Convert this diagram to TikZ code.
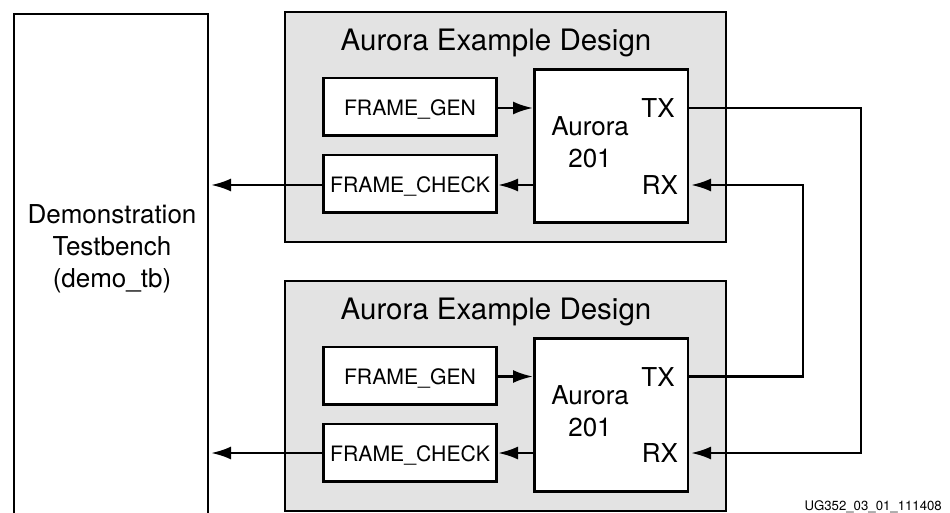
\documentclass[tikz,border=0pt]{standalone}
\usepackage{fontspec}
\setmainfont{TeX Gyre Heros}
\usetikzlibrary{arrows.meta}
\tikzset{
 box/.style={draw=black,line width=2.4pt,fill=white,inner sep=0pt,outer sep=0pt},
 design/.style={draw=black,line width=2.4pt,fill=black!11,inner sep=0pt,outer sep=0pt},
 conn/.style={line width=2.6pt,-{Latex[length=20pt,width=13pt]}},
 plain/.style={line width=2.4pt},
 big/.style={font=\fontsize{29.5}{34}\selectfont,inner sep=0pt},
 med/.style={font=\fontsize{26}{32}\selectfont,inner sep=0pt,align=center},
 small/.style={font=\fontsize{21.2}{24}\selectfont,inner sep=0pt},
}
\newcommand{\bx}[6][box]{\node[#1,minimum width=#4 pt,minimum height=#5 pt,anchor=north west] (#2) at (#3) {#6};}
\begin{document}
\begin{tikzpicture}[x=1pt,y=-1pt]
\useasboundingbox (0,0) rectangle (950,513);
\coordinate (tbbl) at (14,513);
\coordinate (tbtl) at (14,14);
\coordinate (tbtr) at (208,14);
\coordinate (tbbr) at (208,513);
\draw[plain] (tbbl) -- (tbtl) -- (tbtr) -- (tbbr);
\node[med] (tb) at (112,248.5) {Demonstration\\Testbench\\(demo\_tb)};
\coordinate (tbA) at (211,185);
\coordinate (tbB) at (211,453);
\bx[design]{d1}{285,12}{441}{230}{}
\bx[design]{d2}{285,281}{441}{230}{}
\node[big] (t1) at (496,43) {Aurora Example Design};
\node[big] (t2) at (496,312) {Aurora Example Design};
\bx{g1}{323.5,78}{173}{57.5}{}
\bx{c1}{323.5,155}{173}{57.5}{}
\bx{a1}{534.5,69.5}{153.5}{153}{}
\bx{g2}{323.5,347}{173}{57.5}{}
\bx{c2}{323.5,424}{173}{57.5}{}
\bx{a2}{534.5,338.5}{153.5}{153}{}
\node[small] (gt1) at (410,109) {FRAME\_GEN};
\node[small] (ct1) at (410,186) {FRAME\_CHECK};
\node[small] (gt2) at (410,378) {FRAME\_GEN};
\node[small] (ct2) at (410,455) {FRAME\_CHECK};
\node[med] (at1) at (590,142.5) {Aurora\\201};
\node[med] (at2) at (590,411.5) {Aurora\\201};
\node[med] (tx1) at (658,108) {TX};
\node[med] (rx1) at (660,185) {RX};
\node[med] (tx2) at (658,377) {TX};
\node[med] (rx2) at (660,453) {RX};
\coordinate (a1tx) at (688,108);
\coordinate (a1rx) at (691,185);
\coordinate (a2tx) at (688,376.5);
\coordinate (a2rx) at (691,453);
\coordinate (a1g) at (533,108);
\coordinate (a1c) at (534.5,185);
\coordinate (a2g) at (533,376.5);
\coordinate (a2c) at (534.5,453);
\coordinate (g1e) at (496.5,108);
\coordinate (c1e) at (498,185);
\coordinate (c1w) at (323.5,185);
\coordinate (g2e) at (496.5,376.5);
\coordinate (c2e) at (498,453);
\coordinate (c2w) at (323.5,453);
\coordinate (o1) at (861,108);
\coordinate (o2) at (861,453);
\coordinate (i1) at (803,185);
\coordinate (i2) at (803,376.5);
\draw[conn] (g1e) -- (a1g);
\draw[conn] (a1c) -- (c1e);
\draw[conn] (c1w) -- (tbA);
\draw[conn] (g2e) -- (a2g);
\draw[conn] (a2c) -- (c2e);
\draw[conn] (c2w) -- (tbB);
\draw[conn] (a1tx) -- (o1) -- (o2) -- (a2rx);
\draw[conn] (a2tx) -- (i2) -- (i1) -- (a1rx);
\node[font=\fontsize{13.2}{15}\selectfont,inner sep=0pt,anchor=south east] (ref) at (942,513) {UG352\_03\_01\_111408};
\end{tikzpicture}
\end{document}
